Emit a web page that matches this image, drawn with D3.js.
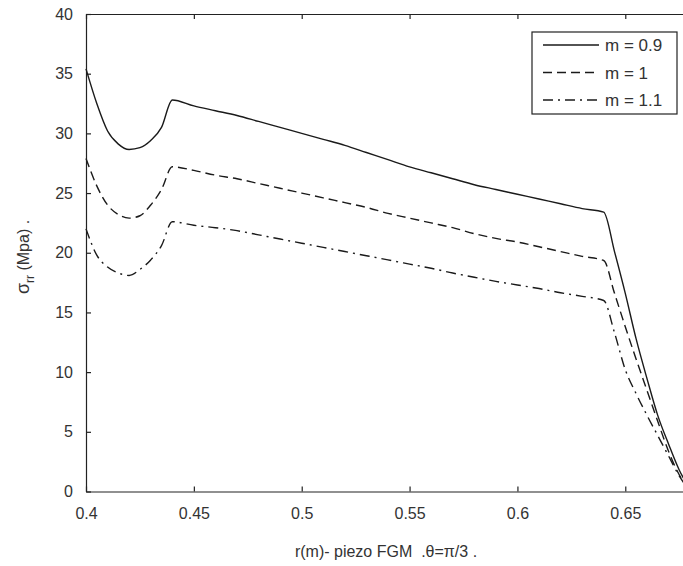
<!DOCTYPE html>
<html lang="en">
<head>
    <meta charset="UTF-8">
    <title>Radial stress, piezo FGM</title>
    <script src="https://d3js.org/d3.v7.min.js"></script>
    <style>
        body { margin: 0; background: #fff; }
        svg { display: block; font-family: "Liberation Sans", Arial, sans-serif; }
        .axis path, .axis line { stroke: #222; stroke-width: 1.2; }
        .axis text { fill: #333; font-size: 16px; }
    </style>
</head>
<body>

<div id="chart-container"></div>

<script>
    // radius values (m)
    const rValues = [0.40, 0.405, 0.41, 0.415, 0.42, 0.425, 0.43, 0.435, 0.44,
        0.45, 0.46, 0.47, 0.48, 0.49, 0.50, 0.51, 0.52, 0.53, 0.54, 0.55,
        0.56, 0.57, 0.58, 0.59, 0.60, 0.61, 0.62, 0.63, 0.64,
        0.645, 0.65, 0.655, 0.66, 0.665, 0.67, 0.675, 0.68];

    // sigma_rr (MPa) for each m
    const m09 = [35.4, 32.5, 30.2, 29.1, 28.65, 28.8, 29.4, 30.5, 32.8,
        32.3, 31.9, 31.5, 31.0, 30.5, 30.0, 29.5, 29.0, 28.4, 27.8, 27.2,
        26.7, 26.2, 25.7, 25.3, 24.9, 24.5, 24.1, 23.7, 23.4,
        20.1, 16.6, 12.8, 9.5, 6.4, 4.0, 1.8, 0.2];
    const m10 = [27.9, 25.6, 24.0, 23.2, 22.9, 23.1, 24.0, 25.3, 27.2,
        26.9, 26.5, 26.2, 25.8, 25.4, 25.0, 24.6, 24.2, 23.8, 23.3, 22.9,
        22.5, 22.1, 21.6, 21.2, 20.9, 20.5, 20.1, 19.7, 19.35,
        16.6, 13.8, 11.1, 8.5, 5.9, 3.4, 1.4, 0.1];
    const m11 = [22.0, 19.8, 18.8, 18.3, 18.1, 18.6, 19.4, 20.6, 22.6,
        22.3, 22.1, 21.85, 21.5, 21.15, 20.8, 20.45, 20.1, 19.75, 19.4, 19.05,
        18.7, 18.3, 17.95, 17.6, 17.3, 17.0, 16.65, 16.35, 16.0,
        13.3, 10.2, 8.2, 6.4, 4.7, 3.0, 1.3, 0.05];

    const seriesNames = ["m = 0.9", "m = 1", "m = 1.1"];
    const xTicks = [0.4, 0.45, 0.5, 0.55, 0.6, 0.65];
    const yTicks = [0, 5, 10, 15, 20, 25, 30, 35, 40];

    const dashes = [null, "9,5", "10,5,2,5"];

    const svgWidth = 683, svgHeight = 566;
    const margin = { top: 14, left: 86 };
    const width = 604, height = 477.5;

    const svg = d3.select("#chart-container")
        .append("svg")
        .attr("width", svgWidth)
        .attr("height", svgHeight);

    const g = svg.append("g")
        .attr("transform", `translate(${margin.left},${margin.top})`);

    const x = d3.scaleLinear().domain([0.4, 0.68]).range([0, width]);
    const y = d3.scaleLinear().domain([0, 40]).range([height, 0]);

    // axes, ticks pointing inward like the original
    g.append("g")
        .attr("class", "axis")
        .attr("transform", `translate(0,${height})`)
        .call(d3.axisBottom(x).tickValues(xTicks).tickFormat(d3.format("")).tickSizeInner(-5).tickSizeOuter(0).tickPadding(16));

    g.append("g")
        .attr("class", "axis")
        .call(d3.axisTop(x).tickValues(xTicks).tickFormat("").tickSizeInner(-5).tickSizeOuter(0));

    g.append("g")
        .attr("class", "axis")
        .call(d3.axisLeft(y).tickValues(yTicks).tickSizeInner(-5).tickSizeOuter(0).tickPadding(13));

    g.append("g")
        .attr("class", "axis")
        .attr("transform", `translate(${width},0)`)
        .call(d3.axisRight(y).tickValues(yTicks).tickFormat("").tickSizeInner(-5).tickSizeOuter(0));

    // curves
    const line = d3.line()
        .x((d, i) => x(rValues[i]))
        .y(d => y(d))
        .curve(d3.curveMonotoneX);

    [m09, m10, m11].forEach((s, i) => {
        g.append("path")
            .datum(s)
            .attr("fill", "none")
            .attr("stroke", "#1a1a1a")
            .attr("stroke-width", 1.4)
            .attr("stroke-dasharray", dashes[i])
            .attr("d", line);
    });

    // legend
    const legend = svg.append("g").attr("transform", "translate(532,32)");
    legend.append("rect")
        .attr("width", 145).attr("height", 82)
        .attr("fill", "#fff").attr("stroke", "#222").attr("stroke-width", 1.2);

    seriesNames.forEach((name, i) => {
        const ly = 13 + i * 27.5;
        legend.append("line")
            .attr("x1", 11).attr("x2", 67)
            .attr("y1", ly).attr("y2", ly)
            .attr("stroke", "#1a1a1a").attr("stroke-width", 1.4)
            .attr("stroke-dasharray", dashes[i]);
        legend.append("text")
            .attr("x", 73).attr("y", ly + 6)
            .attr("font-size", 17).attr("fill", "#333")
            .text(name);
    });

    // axis labels
    svg.append("text")
        .attr("x", 386).attr("y", 557)
        .attr("text-anchor", "middle")
        .attr("font-size", 16).attr("fill", "#333")
        .style("white-space", "pre")
        .text("r(m)- piezo FGM  .\u03b8=\u03c0/3 .");

    const yl = svg.append("text")
        .attr("transform", "translate(29,257) rotate(-90)")
        .attr("text-anchor", "middle")
        .attr("font-size", 16).attr("fill", "#333");
    yl.append("tspan").attr("font-size", 18).text("\u03c3");
    yl.append("tspan").attr("dy", 5).attr("font-size", 12).text("rr");
    yl.append("tspan").attr("dy", -5).text(" (Mpa) .");
</script>
</body>
</html>
